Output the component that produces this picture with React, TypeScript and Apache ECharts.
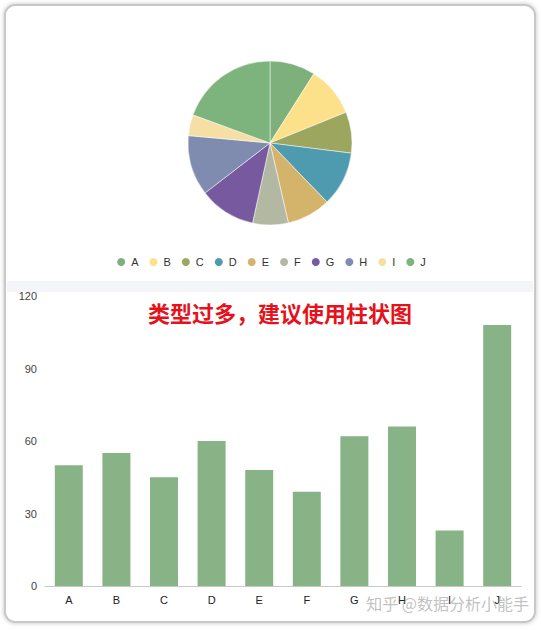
import React, { useEffect, useRef } from 'react';
import * as echarts from 'echarts';

// 类别与数值（饼图、柱状图共用同一份数据）
const categories = ['A', 'B', 'C', 'D', 'E', 'F', 'G', 'H', 'I', 'J'];
const values = [50, 55, 45, 60, 48, 39, 62, 66, 23, 108];
const yTicks = [0, 30, 60, 90, 120];

const pieColors = [
  '#7eb07c', '#fde08a', '#9da65f', '#4e9aae', '#d4b36a',
  '#b3b8a2', '#77599f', '#7f8cb0', '#f6dfa5', '#7db37c',
];
const barColor = '#87b387';

const App: React.FC = () => {
  const chartRef = useRef<HTMLDivElement>(null);

  useEffect(() => {
    if (!chartRef.current) return;
    const chart = echarts.init(chartRef.current, undefined, { renderer: 'svg' });

    chart.setOption({
      animation: false,
      backgroundColor: '#ffffff',
      color: pieColors,
      textStyle: { fontFamily: 'Helvetica, Arial, "Noto Sans CJK SC", sans-serif' },
      graphic: [
        // 外框卡片
        {
          type: 'rect',
          z: -10,
          shape: { x: 5, y: 5, width: 530, height: 617, r: 10 },
          style: {
            fill: '#ffffff',
            stroke: '#c8c8c8',
            lineWidth: 2,
            shadowBlur: 4,
            shadowColor: 'rgba(0,0,0,0.25)',
          },
        },
        // 中间分隔带
        {
          type: 'rect',
          z: -9,
          shape: { x: 7, y: 281, width: 526, height: 11 },
          style: { fill: '#f4f5f9' },
        },
        {
          type: 'text',
          left: 148,
          top: 301,
          style: {
            text: '类型过多，建议使用柱状图',
            fill: '#e5121c',
            font: 'bold 22px "Noto Sans CJK SC", sans-serif',
          },
        },
        // 水印
        {
          type: 'text',
          right: 12,
          top: 595,
          z: 100,
          style: {
            text: '知乎 @数据分析小能手',
            fill: 'rgba(140,140,140,0.55)',
            font: '16px "Noto Sans CJK SC", sans-serif',
          },
        },
      ],
      legend: {
        data: categories,
        top: 251,
        left: 'center',
        icon: 'circle',
        itemWidth: 10,
        itemHeight: 10,
        itemGap: 9,
        textStyle: { color: '#333', fontSize: 11 },
      },
      grid: { left: 45, right: 20, top: 296, bottom: 44, containLabel: false },
      xAxis: {
        type: 'category',
        data: categories,
        axisLine: { lineStyle: { color: '#c8c8c8' } },
        axisTick: { alignWithLabel: true, length: 4, lineStyle: { color: '#c8c8c8' } },
        axisLabel: { color: '#222', fontSize: 11, margin: 8 },
      },
      yAxis: {
        type: 'value',
        min: yTicks[0],
        max: yTicks[yTicks.length - 1],
        interval: 30,
        axisLine: { show: false },
        axisTick: { show: false },
        splitLine: { show: false },
        axisLabel: { color: '#444', fontSize: 11, margin: 8 },
      },
      series: [
        {
          type: 'pie',
          center: [270, 143],
          radius: 82,
          label: { show: false },
          labelLine: { show: false },
          itemStyle: { borderColor: '#ffffff', borderWidth: 0.5 },
          data: categories.map((name, i) => ({ name, value: values[i] })),
        },
        {
          type: 'bar',
          barWidth: 28,
          itemStyle: { color: barColor },
          data: values,
        },
      ],
    });

    return () => {
      chart.dispose();
    };
  }, []);

  return (
    <div
      ref={chartRef}
      style={{ position: 'fixed', left: 0, top: 0, width: 541, height: 630 }}
    />
  );
};

export default App;
